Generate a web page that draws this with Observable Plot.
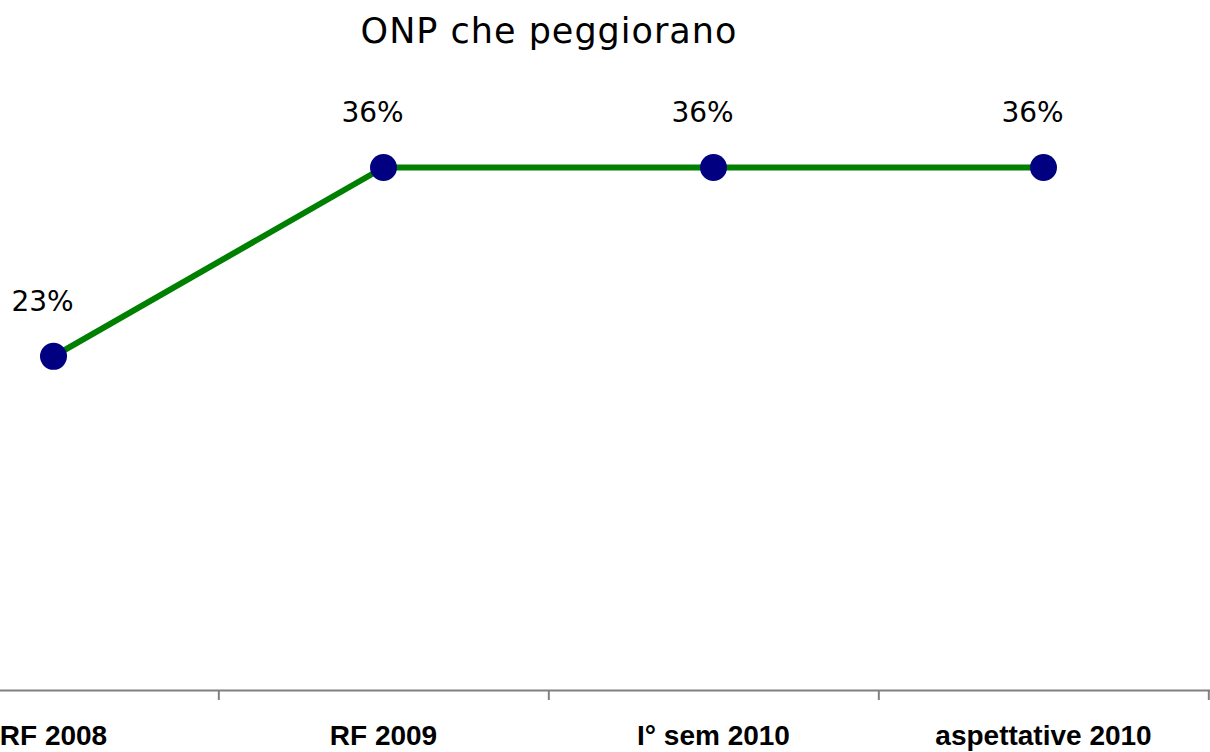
<!DOCTYPE html>
<html>
<head>
<meta charset="utf-8">
<script src="https://cdn.jsdelivr.net/npm/d3@7"></script>
<script src="https://cdn.jsdelivr.net/npm/@observablehq/plot@0.6"></script>
<style>
  html, body { margin: 0; padding: 0; background: #fff; }
  #wrap { width: 1210px; height: 752px; overflow: hidden; position: relative; }
  #title { width: 1098px; height: 60px; line-height: 60px; text-align: center; font-family: "DejaVu Sans", sans-serif; font-size: 35px; letter-spacing: 1px; color: #000; padding-top: 1px; box-sizing: border-box; }
</style>
</head>
<body>
<div id="wrap">
  <div id="title">ONP che peggiorano</div>
  <div id="chart"></div>
</div>
<script>
const categories = ["RF 2008", "RF 2009", "I° sem 2010", "aspettative 2010"];
const values = [23, 36, 36, 36];
const labels = ["23%", "36%", "36%", "36%"];

const data = categories.map((c, i) => ({cat: c, val: values[i], label: labels[i]}));

const xRange = [-113, 1209.5];
const half = (xRange[1] - xRange[0]) / categories.length / 2;

const chart = Plot.plot({
  width: 1210,
  height: 692,
  marginTop: 0,
  marginBottom: 62,
  marginLeft: 0,
  marginRight: 0,
  x: {type: "band", domain: categories, range: xRange, padding: 0, axis: null, label: null},
  y: {domain: [0, 36], range: [630, 107], axis: null, label: null},
  marks: [
    Plot.ruleY([0], {stroke: "#808080", strokeWidth: 2}),
    Plot.axisX({tickSize: 10, dx: half, stroke: "#808080", strokeWidth: 2, text: null, label: null}),
    Plot.axisX({tickSize: 0, tickPadding: 35, fontSize: 28, fontWeight: "bold", fontFamily: "Liberation Sans", fill: "#000", label: null}),
    Plot.line(data, {x: "cat", y: "val", stroke: "#008000", strokeWidth: 6}),
    Plot.dot(data, {x: "cat", y: "val", r: 13.5, fill: "#000080", stroke: "none"}),
    Plot.text(data, {x: "cat", y: "val", text: "label", dy: -54.5, dx: -11, fontSize: 28, fontFamily: "DejaVu Sans", fill: "#000", lineAnchor: "middle"})
  ]
});
chart.style.fontFamily = "DejaVu Sans";
chart.style.overflow = "visible";
document.getElementById("chart").appendChild(chart);
</script>
</body>
</html>
